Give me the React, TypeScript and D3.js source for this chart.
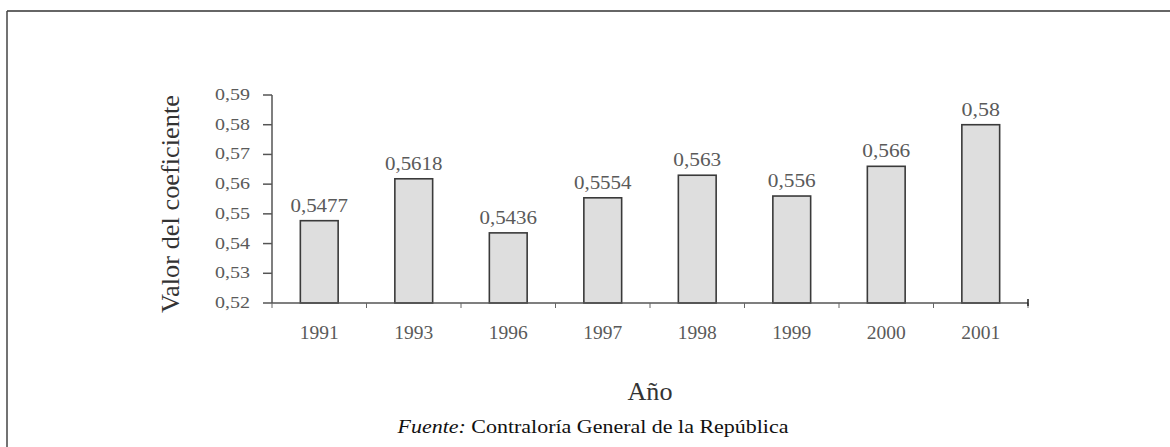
import React from "react";
import * as d3 from "d3";

const years = ["1991", "1993", "1996", "1997", "1998", "1999", "2000", "2001"];
const values = [0.5477, 0.5618, 0.5436, 0.5554, 0.563, 0.556, 0.566, 0.58];
const valueLabels = ["0,5477", "0,5618", "0,5436", "0,5554", "0,563", "0,556", "0,566", "0,58"];
const yTicks = [0.52, 0.53, 0.54, 0.55, 0.56, 0.57, 0.58, 0.59];

const W = 1170;
const H = 447;
const left = 272;
const right = 1028;
const top = 95;
const bottom = 303;
const serif = "'Liberation Serif', 'Times New Roman', serif";

export default function App() {
  const x = d3.scaleBand<string>().domain(years).range([left, right]).paddingInner(0.6).paddingOuter(0.3);
  const xb = d3.scaleBand<string>().domain(years).range([left, right]);
  const y = d3.scaleLinear().domain([0.52, 0.59]).range([bottom, top]);
  const fmt = (v: number) => d3.format(".2f")(v).replace(".", ",");
  const boundaries = years.map((c) => xb(c)!).concat([right]);

  return (
    <svg width={W} height={H} style={{ position: "absolute", left: 0, top: 0, background: "#fff" }}>
      <rect x={0} y={0} width={W} height={H} fill="#fff" />
      <line x1={7} y1={11} x2={W} y2={11} stroke="#666" strokeWidth={2} />
      <line x1={7} y1={11} x2={7} y2={H} stroke="#444" strokeWidth={1.5} />

      {years.map((c, i) => (
        <g key={c}>
          <rect
            x={x(c)!}
            y={y(values[i])}
            width={x.bandwidth()}
            height={bottom - y(values[i])}
            fill="#dedede"
            stroke="#3a3a3a"
            strokeWidth={1.6}
          />
          <text
            x={x(c)! + x.bandwidth() / 2}
            y={y(values[i]) - 9}
            textAnchor="middle"
            fontFamily={serif}
            fontSize={19}
            textLength={valueLabels[i].length * 9.6}
            lengthAdjust="spacingAndGlyphs"
            fill="#5a5a5a"
          >
            {valueLabels[i]}
          </text>
          <text
            x={x(c)! + x.bandwidth() / 2}
            y={339}
            textAnchor="middle"
            fontFamily={serif}
            fontSize={19}
            textLength={39}
            lengthAdjust="spacingAndGlyphs"
            fill="#5a5a5a"
          >
            {c}
          </text>
        </g>
      ))}

      <line x1={left} y1={top} x2={left} y2={bottom} stroke="#555" strokeWidth={1.5} />
      {yTicks.map((t) => (
        <g key={t}>
          <line x1={left - 9} y1={y(t)} x2={left} y2={y(t)} stroke="#555" strokeWidth={1.5} />
          <text
            x={250}
            y={y(t) + 5}
            textAnchor="end"
            fontFamily={serif}
            fontSize={17}
            textLength={35}
            lengthAdjust="spacingAndGlyphs"
            fill="#5a5a5a"
          >
            {fmt(t)}
          </text>
        </g>
      ))}

      <line x1={left} y1={bottom} x2={right} y2={bottom} stroke="#555" strokeWidth={1.5} />
      {boundaries.map((b, i) => (
        <line key={i} x1={b} y1={bottom} x2={b} y2={bottom + 5} stroke="#666" strokeWidth={1} />
      ))}
      <line x1={right} y1={bottom - 4} x2={right} y2={bottom + 3} stroke="#222" strokeWidth={1.5} />

      <text
        x={650}
        y={400}
        textAnchor="middle"
        fontFamily={serif}
        fontSize={26}
        textLength={45}
        lengthAdjust="spacingAndGlyphs"
        fill="#333"
      >
        Año
      </text>
      <text
        transform={`translate(179, 204) rotate(-90)`}
        textAnchor="middle"
        fontFamily={serif}
        fontSize={25}
        textLength={218}
        lengthAdjust="spacingAndGlyphs"
        fill="#333"
      >
        Valor del coeficiente
      </text>
      <text
        x={593}
        y={433}
        textAnchor="middle"
        fontFamily={serif}
        fontSize={19}
        textLength={391}
        lengthAdjust="spacingAndGlyphs"
        fill="#111"
      >
        <tspan fontStyle="italic">Fuente:</tspan> Contraloría General de la República
      </text>
    </svg>
  );
}
